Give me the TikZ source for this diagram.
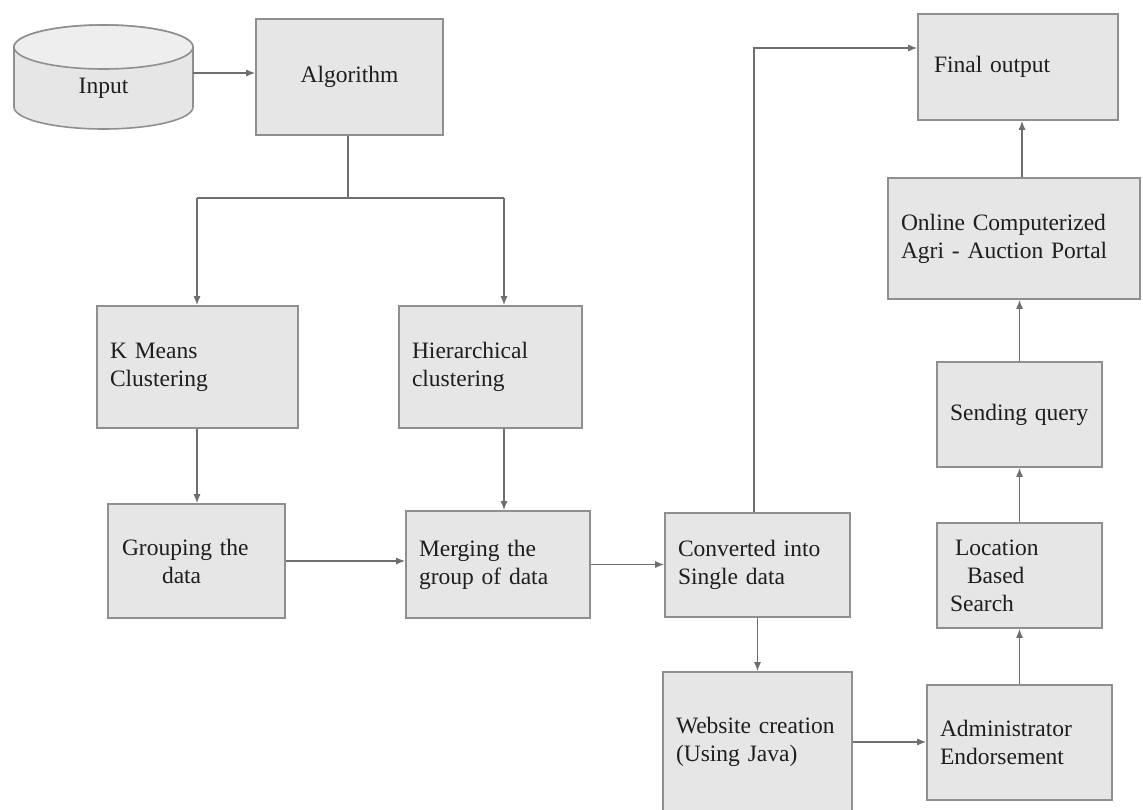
\documentclass[tikz,border=0pt]{standalone}
\usepackage{fontspec}
\setmainfont{Liberation Serif}
\usetikzlibrary{arrows.meta,calc}
\definecolor{boxfill}{HTML}{E6E6E6}
\definecolor{cylfill}{HTML}{EEEEEE}
\definecolor{boxline}{HTML}{8F8F8F}
\definecolor{conn}{HTML}{6E6E6E}
\definecolor{txt}{HTML}{1E1E1E}
\begin{document}
\begin{tikzpicture}[x=1pt,y=-1pt,
  box/.style={draw=boxline, fill=boxfill, line width=1.6pt, inner xsep=13pt, inner ysep=0pt,
    font=\fontsize{23.5}{28}\selectfont, text=txt, align=left},
  lbl/.style={inner sep=0pt, font=\fontsize{23.5}{28}\selectfont, text=txt},
  arr/.style={draw=conn, line width=1.3pt, -{Latex[length=9pt,width=7pt]}},
  ln/.style={draw=conn, line width=1.3pt}]
\useasboundingbox (0,0) rectangle (1143,809);
\fill[white] (0,0) rectangle (1143,809);

% cylinder (Input)
\path[draw=boxline, fill=boxfill, line width=1.6pt]
  (14,47) -- (14,107) arc[start angle=180, end angle=0, x radius=89.5, y radius=22]
  -- (193,47) arc[start angle=0, end angle=-180, x radius=89.5, y radius=22] -- cycle;
\path[draw=boxline, fill=cylfill, line width=1.6pt] (103.5,47) ellipse[x radius=89.5, y radius=22];
\node[lbl, minimum width=179] (inp) at (103.5,88) {Input};

% boxes
\node[box, align=center, text width=161, minimum height=116] (alg) at (349.5,77) {Algorithm};
\node[box, text width=175, minimum height=122] (km) at (197.5,367) {K Means\\Clustering};
\node[box, text width=157, minimum height=122] (hc) at (490.5,367) {Hierarchical\\clustering};
\node[box, text width=151, minimum height=114] (grp) at (196.5,561) {\hspace*{1pt}Grouping the\\\hspace*{41pt}data};
\node[box, text width=158, minimum height=107] (mrg) at (498,564.5) {Merging the\\group of data};
\node[box, text width=159, minimum height=104] (conv) at (757.5,565) {Converted into\\Single data};
\node[box, text width=163, minimum height=140] (web) at (757.5,742) {Website creation\\(Using Java)};
\node[box, text width=159, minimum height=115] (adm) at (1019.5,742.5) {Administrator\\Endorsement};
\node[box, text width=139, minimum height=105] (loc) at (1019.5,575.5) {\hspace*{5pt}Location\\\hspace*{17pt}Based\\Search};
\node[box, text width=139, minimum height=105] (snd) at (1019.5,414.5) {Sending query};
\node[box, text width=226, minimum height=121] (onl) at (1014,238.5) {Online Computerized\\Agri - Auction Portal};
\node[box, text width=174, minimum height=106] (fin) at (1018,67) {\hspace*{3pt}Final output};

% connectors
\coordinate (split) at (348,198);
\coordinate (sl) at (197,198);
\coordinate (sr) at (504,198);
\draw[arr] (inp.east |- 0,73) -- (alg.west |- 0,73);
\draw[ln] (alg.south -| split) -- (split);
\draw[ln] (sl) -- (sr);
\draw[arr] (sl) -- (sl |- km.north);
\draw[arr] (sr) -- (sr |- hc.north);
\draw[arr] (sl |- km.south) -- (sl |- grp.north);
\draw[arr] (sr |- hc.south) -- (sr |- mrg.north);
\draw[arr] (grp.east) -- (grp.east -| mrg.west);
\draw[arr] (mrg.east) -- (mrg.east -| conv.west);
\draw[arr] ([xshift=-3.5pt]conv.north) |- ([yshift=19pt]fin.west);
\draw[arr] (conv.south) -- (web.north);
\draw[arr] (web.east) -- (web.east -| adm.west);
\draw[arr] (adm.north) -- (loc.south);
\draw[arr] (loc.north) -- (snd.south);
\draw[arr] (snd.north) -- (snd.north |- onl.south);
\draw[arr] ([xshift=4pt]fin.south |- onl.north) -- ([xshift=4pt]fin.south);
\end{tikzpicture}
\end{document}
